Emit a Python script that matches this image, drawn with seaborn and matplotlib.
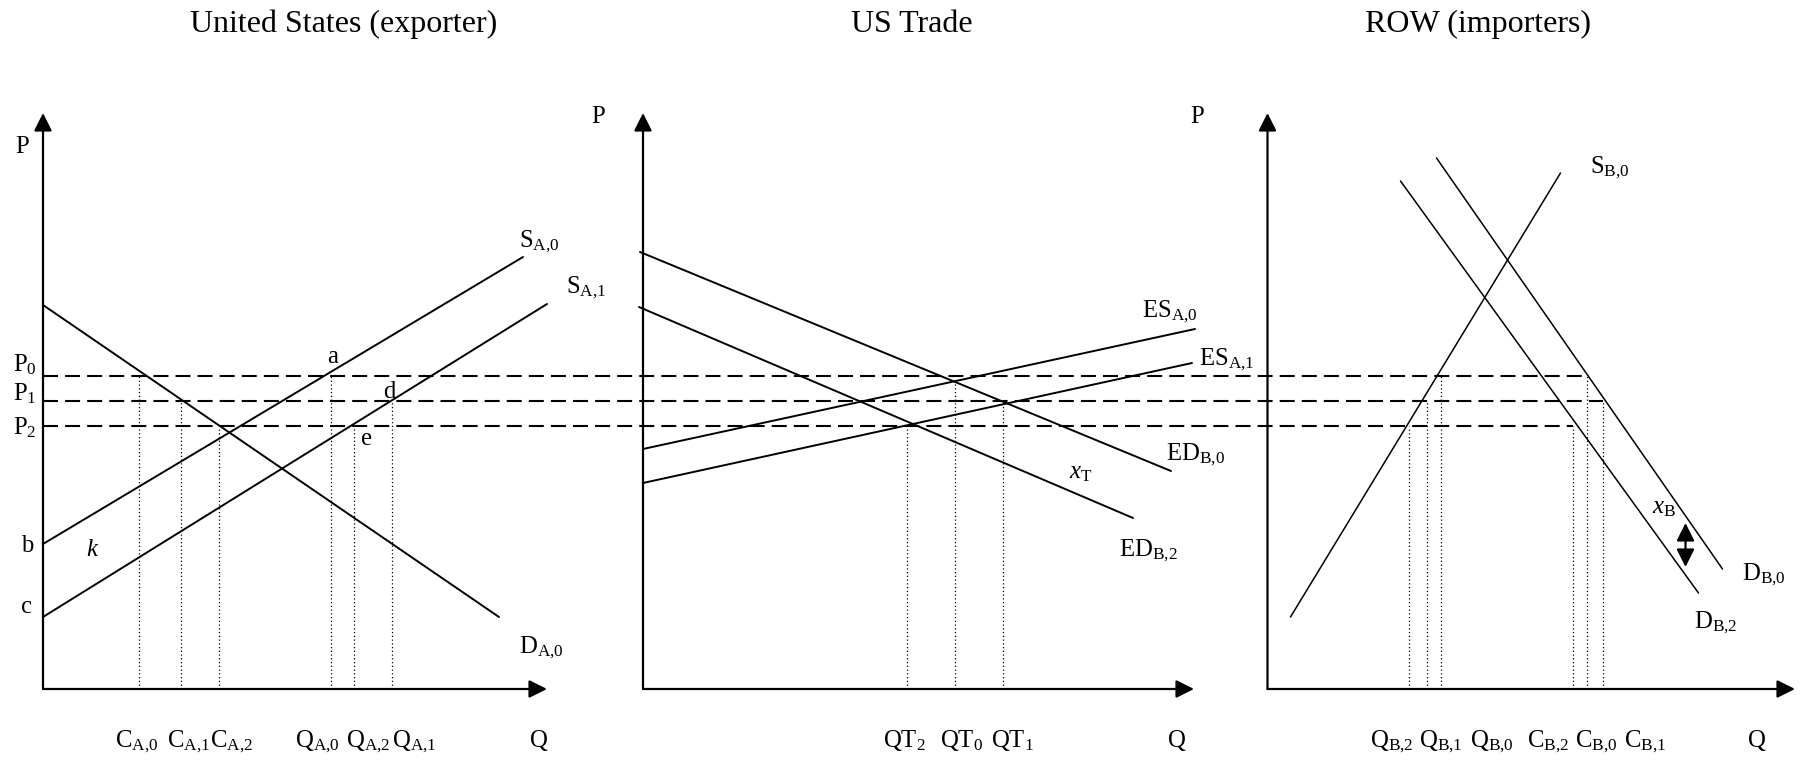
import pandas as pd
import seaborn as sns
import matplotlib.pyplot as plt

# Price levels shared by the three panels (P0, P1, P2)
price_levels = [31.3, 28.8, 26.3]
price_names = ['P$_0$', 'P$_1$', 'P$_2$']

# Curve end points in each panel's own (Q, P) units
us_demand_q, us_demand_p = [0, 45.6], [38.4, 7.2]        # D_A,0
us_supply0_q, us_supply0_p = [0, 48.0], [14.5, 43.2]     # S_A,0
us_supply1_q, us_supply1_p = [0, 50.4], [7.2, 38.5]      # S_A,1

ed0_q, ed0_p = [-0.3, 52.8], [43.7, 21.8]                # ED_B,0
ed2_q, ed2_p = [-0.4, 49.0], [38.2, 17.1]                # ED_B,2
es0_q, es0_p = [0, 55.2], [24.0, 36.0]                   # ES_A,0
es1_q, es1_p = [0, 54.9], [20.6, 32.6]                   # ES_A,1

row_supply_q, row_supply_p = [2.3, 29.3], [7.2, 51.6]    # S_B,0
row_demand0_q, row_demand0_p = [16.9, 45.5], [53.1, 12.0]  # D_B,0
row_demand2_q, row_demand2_p = [13.3, 43.1], [50.8, 9.6]   # D_B,2

us_drop_q = [9.6, 13.8, 17.6, 28.8, 31.1, 34.9]
us_drop_p = [31.3, 28.8, 26.3, 31.3, 26.3, 28.8]
trade_drop_q = [26.4, 31.2, 36.0]
trade_drop_p = [26.3, 30.9, 28.6]
row_drop_q = [14.15, 15.9, 17.3, 30.5, 31.9, 33.5]
row_drop_p = [26.3, 28.8, 31.3, 26.3, 31.3, 28.8]

# where each price line stops in the ROW panel
row_price_end_q = [31.9, 33.5, 30.5]

# tariff wedge x_B in the ROW panel
wedge_q, wedge_p_top, wedge_p_bottom = 41.8, 16.6, 12.2

# layout: left edge of every panel's P axis, axis lengths
panel_x0 = [0.0, 60.0, 122.45]
axis_len_q = [50.4, 55.1, 52.75]
axis_len_p = 57.6

curves = pd.DataFrame({
    'panel': [0, 0, 0, 0, 0, 0, 1, 1, 1, 1, 1, 1, 1, 1, 2, 2, 2, 2, 2, 2],
    'curve': ['D_A0', 'D_A0', 'S_A0', 'S_A0', 'S_A1', 'S_A1',
              'ED_B0', 'ED_B0', 'ED_B2', 'ED_B2', 'ES_A0', 'ES_A0', 'ES_A1', 'ES_A1',
              'S_B0', 'S_B0', 'D_B0', 'D_B0', 'D_B2', 'D_B2'],
    'q': us_demand_q + us_supply0_q + us_supply1_q
         + ed0_q + ed2_q + es0_q + es1_q
         + row_supply_q + row_demand0_q + row_demand2_q,
    'p': us_demand_p + us_supply0_p + us_supply1_p
         + ed0_p + ed2_p + es0_p + es1_p
         + row_supply_p + row_demand0_p + row_demand2_p,
})
curves['x'] = curves['q'] + curves['panel'].map(lambda i: panel_x0[i])

sns.set_theme(style='white')
plt.rcParams['font.family'] = ['Liberation Serif', 'DejaVu Serif']
plt.rcParams['text.color'] = 'black'
plt.rcParams['mathtext.fontset'] = 'custom'
plt.rcParams['mathtext.rm'] = 'Liberation Serif'
plt.rcParams['mathtext.it'] = 'Liberation Serif:italic'

fig = plt.figure(figsize=(18.05, 7.61), dpi=100)
ax = fig.add_axes([0, 0, 1, 1])
ax.set_xlim(-4.3, 176.2)
ax.set_ylim(-7.2, 68.9)
ax.axis('off')

# supply / demand curves
for i, lw in zip(range(3), [1.4, 1.4, 1.1]):
    sns.lineplot(data=curves[curves['panel'] == i], x='x', y='p', units='curve',
                 estimator=None, sort=False, color='black', lw=lw, ax=ax)

# axes with arrow heads
for x0, lq in zip(panel_x0, axis_len_q):
    for tip in [(x0, axis_len_p), (x0 + lq, 0)]:
        ax.annotate('', xy=tip, xytext=(x0, 0),
                    arrowprops=dict(arrowstyle='-|>', lw=1.6, color='black',
                                    shrinkA=0, shrinkB=0, mutation_scale=27))

# dashed price lines running across the three panels
for p, q_end in zip(price_levels, row_price_end_q):
    ax.plot([0, panel_x0[2] + q_end], [p, p], color='black', lw=1.5,
            ls=(0, (7.2, 3.4)))

# dotted drop lines
for x0, dq, dp in [(panel_x0[0], us_drop_q, us_drop_p),
                   (panel_x0[1], trade_drop_q, trade_drop_p),
                   (panel_x0[2], row_drop_q, row_drop_p)]:
    ax.vlines([x0 + q for q in dq], 0, dp, colors='black', lw=0.9,
              linestyles=(0, (1, 2)))

# double arrow x_B
ax.annotate('', xy=(panel_x0[2] + wedge_q, wedge_p_top),
            xytext=(panel_x0[2] + wedge_q, wedge_p_bottom),
            arrowprops=dict(arrowstyle='<|-|>', lw=1.6, color='black',
                            shrinkA=0, shrinkB=0, mutation_scale=27))


def put(panel, q, p, s, size=17.8, ha='left'):
    ax.text(panel_x0[panel] + q, p, s, fontsize=size, ha=ha, va='baseline',
            color='black')


# titles
put(0, 30.1, 65.67, 'United States (exporter)', size=23, ha='center')
put(1, 26.9, 65.67, 'US Trade', size=23, ha='center')
put(2, 21.05, 65.67, 'ROW (importers)', size=23, ha='center')

# panel 1 labels
put(0, -2.77, 53.57, 'P')
for name, y in zip(price_names, [31.8, 28.9, 25.5]):
    put(0, -2.97, y, name)
put(0, 47.56, 44.23, r'S$_{\mathrm{A{,}0}}$')
put(0, 52.34, 39.57, r'S$_{\mathrm{A{,}1}}$')
put(0, 47.56, 3.57, r'D$_{\mathrm{A{,}0}}$')
put(0, 28.37, 32.57, 'a')
put(0, 33.97, 29.07, 'd')
put(0, 31.77, 24.4, 'e')
put(0, -2.2, 13.73, 'b')
put(0, -2.2, 7.57, 'c')
put(0, 4.3, 13.3, '$k$')
for q, s in zip([7.18, 12.42, 16.75, 25.17, 30.33, 34.93, 48.7],
                [r'C$_{\mathrm{A{,}0}}$', r'C$_{\mathrm{A{,}1}}$', r'C$_{\mathrm{A{,}2}}$',
                 r'Q$_{\mathrm{A{,}0}}$', r'Q$_{\mathrm{A{,}2}}$', r'Q$_{\mathrm{A{,}1}}$', 'Q']):
    put(0, q, -5.8, s)

# panel 2 labels
put(1, -5.17, 56.57, 'P')
put(1, 49.85, 37.23, r'ES$_{\mathrm{A{,}0}}$')
put(1, 55.64, 32.4, r'ES$_{\mathrm{A{,}1}}$')
put(1, 52.34, 22.9, r'ED$_{\mathrm{B{,}0}}$')
put(1, 47.56, 13.3, r'ED$_{\mathrm{B{,}2}}$')
put(1, 42.58, 21.07, r'$x_{\mathrm{T}}$')
for q, s in zip([24.02, 29.68, 34.81, 52.53],
                [r'QT$_{2}$', r'QT$_{0}$', r'QT$_{1}$', 'Q']):
    put(1, q, -5.8, s)

# panel 3 labels
put(2, -7.75, 56.57, 'P')
put(2, 32.22, 51.57, r'S$_{\mathrm{B{,}0}}$')
put(2, 47.45, 10.9, r'D$_{\mathrm{B{,}0}}$')
put(2, 42.63, 6.07, r'D$_{\mathrm{B{,}2}}$')
put(2, 38.42, 17.57, r'$x_{\mathrm{B}}$')
for q, s in zip([10.23, 15.16, 20.25, 25.97, 30.75, 35.69, 48.03],
                [r'Q$_{\mathrm{B{,}2}}$', r'Q$_{\mathrm{B{,}1}}$', r'Q$_{\mathrm{B{,}0}}$',
                 r'C$_{\mathrm{B{,}2}}$', r'C$_{\mathrm{B{,}0}}$', r'C$_{\mathrm{B{,}1}}$', 'Q']):
    put(2, q, -5.8, s)

plt.savefig('out.png', dpi=100)
